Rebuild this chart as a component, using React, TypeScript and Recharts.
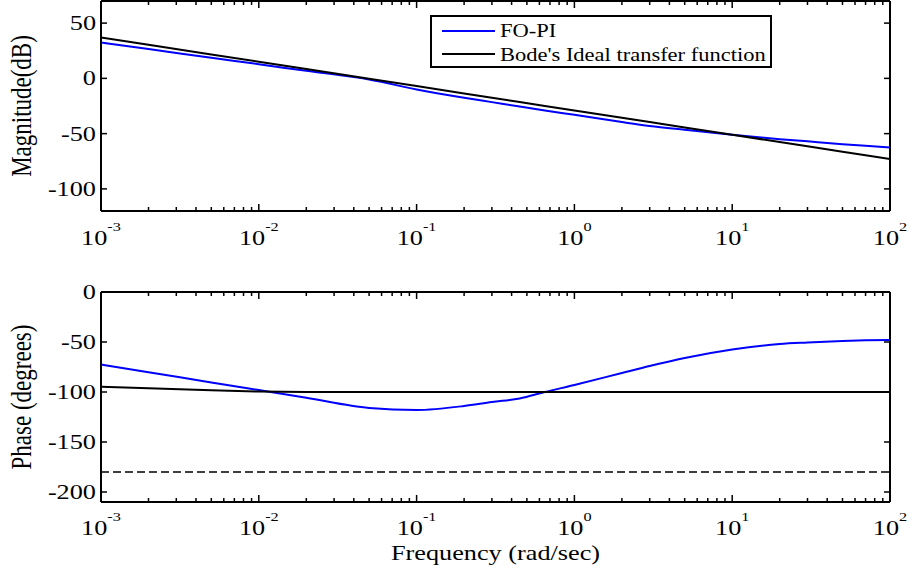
import React from "react";
import { LineChart, Line, XAxis, YAxis, ReferenceLine, Legend } from "recharts";

// frequency samples (rad/sec)
const freq = [
  0.001, 0.002, 0.005, 0.01, 0.02, 0.05, 0.1, 0.2, 0.3, 0.45, 0.65, 1, 2, 3, 5,
  10, 20, 30, 50, 70, 100,
];

// magnitude (dB)
const magFoPi = [
  32.4, 26.5, 18.7, 12.8, 6.8, -1, -10, -17.5, -21.5, -25.5, -29, -33, -39.5,
  -43, -46.5, -51, -55, -57, -59.5, -61, -62.5,
];
const magBode = [
  37, 30.4, 21.6, 15, 8.4, -0.4, -7, -13.6, -17.5, -21.4, -24.9, -29, -35.6,
  -39.5, -44.4, -51, -57.6, -61.5, -66.4, -69.6, -73,
];

// phase (degrees)
const phaseFoPi = [
  -72.5, -80.2, -90.4, -98.1, -105.8, -116, -118, -114, -110, -106.5, -100,
  -93, -81, -74, -66, -57.5, -52, -50.5, -49, -48.3, -48,
];
const phaseBode = [
  -94.8, -96.3, -98.3, -99.5, -100, -100, -100, -100, -100, -100, -100, -100,
  -100, -100, -100, -100, -100, -100, -100, -100, -100,
];
const phaseLimit = -180;

const seriesNames = ["FO-PI", "Bode's Ideal transfer function"];

// axis ticks
const decades = [0.001, 0.01, 0.1, 1, 10, 100];
const decadeExp = ["-3", "-2", "-1", "0", "1", "2"];
const magTicks = [-100, -50, 0, 50];
const phaseTicks = [-200, -150, -100, -50, 0];

const magData = freq.map((f, i) => ({ f, fopi: magFoPi[i], bode: magBode[i] }));
const phaseData = freq.map((f, i) => ({
  f,
  fopi: phaseFoPi[i],
  bode: phaseBode[i],
}));

// major + minor log ticks
const xTicks = decades.flatMap((d, i) =>
  i === decades.length - 1
    ? [d]
    : [1, 2, 3, 4, 5, 6, 7, 8, 9].map((m) => Number((m * d).toPrecision(3)))
);

const SERIF = "'Liberation Serif', 'Times New Roman', serif";
const SX = 1.25; // the original figure is stretched horizontally
const PLOT_W = 789;
const PLOT_H = 210;

function makeXTick(labelDy: number) {
  return (props: any) => {
    const { x, y, payload } = props;
    const v = Number(payload.value);
    const idx = decades.findIndex((d) => Math.abs(d - v) / d < 1e-6);
    const len = idx >= 0 ? 7 : 4;
    return (
      <g>
        <line x1={x} y1={y} x2={x} y2={y - len} stroke="#000" strokeWidth={1.5} />
        <line
          x1={x}
          y1={y - PLOT_H}
          x2={x}
          y2={y - PLOT_H + len}
          stroke="#000"
          strokeWidth={1.5}
        />
        {idx >= 0 && (
          <g transform={`translate(${x},${y + labelDy}) scale(${SX},1)`}>
            <text textAnchor="middle" fontFamily={SERIF} fontSize={21} fill="#000">
              10
              <tspan dy={-14} fontSize={13}>
                {decadeExp[idx]}
              </tspan>
            </text>
          </g>
        )}
      </g>
    );
  };
}

const YTick = (props: any) => {
  const { x, y, payload } = props;
  return (
    <g>
      <line x1={x} y1={y} x2={x + 6} y2={y} stroke="#000" strokeWidth={1.5} />
      <line
        x1={x + PLOT_W - 6}
        y1={y}
        x2={x + PLOT_W}
        y2={y}
        stroke="#000"
        strokeWidth={1.5}
      />
      <g transform={`translate(${x - 5},${y + 7}) scale(${SX},1)`}>
        <text textAnchor="end" fontFamily={SERIF} fontSize={21} fill="#000">
          {payload.value}
        </text>
      </g>
    </g>
  );
};

const YTitle = (props: any) => {
  const { viewBox, text } = props;
  const cy = viewBox.y + viewBox.height / 2;
  return (
    <g transform={`translate(31,${cy}) scale(${SX},1) rotate(-90)`}>
      <text textAnchor="middle" fontFamily={SERIF} fontSize={23} fill="#000">
        {text}
      </text>
    </g>
  );
};

const XTitle = (props: any) => {
  const { viewBox } = props;
  const cx = viewBox.x + viewBox.width / 2;
  return (
    <g transform={`translate(${cx},${viewBox.y + 58}) scale(${SX},1)`}>
      <text textAnchor="middle" fontFamily={SERIF} fontSize={21} fill="#000">
        Frequency (rad/sec)
      </text>
    </g>
  );
};

const renderLegend = (props: any) => {
  // keep the series order (FO-PI first)
  const items = [...(props.payload ?? [])].sort(
    (a: any, b: any) => seriesNames.indexOf(a.value) - seriesNames.indexOf(b.value)
  );
  return (
    <svg width={342} height={53} style={{ display: "block" }}>
      <rect x={1} y={1} width={340} height={51} fill="#fff" stroke="#000" strokeWidth={2} />
      {items.map((it: any, i: number) => (
        <g key={i}>
          <line
            x1={12}
            x2={65}
            y1={16 + i * 23}
            y2={16 + i * 23}
            stroke={it.color}
            strokeWidth={2}
          />
          <g transform={`translate(70,${22 + i * 24}) scale(${SX},1)`}>
            <text fontFamily={SERIF} fontSize={18} fill="#000">
              {it.value}
            </text>
          </g>
        </g>
      ))}
    </svg>
  );
};

const axisLine = { stroke: "#000", strokeWidth: 2 };

export default function App() {
  return (
    <div
      style={{
        position: "absolute",
        left: 0,
        top: 0,
        width: 915,
        height: 571,
        background: "#fff",
      }}
    >
      {/* 振幅 */}
      <div style={{ position: "absolute", left: 0, top: 0 }}>
        <LineChart
          width={915}
          height={260}
          data={magData}
          margin={{ top: 1, right: 25, bottom: 0, left: 0 }}
        >
          <XAxis
            dataKey="f"
            type="number"
            scale="log"
            domain={[0.001, 100]}
            ticks={xTicks}
            interval={0}
            allowDataOverflow
            height={49}
            tickSize={0}
            tickMargin={0}
            tickLine={false}
            axisLine={axisLine}
            tick={makeXTick(34)}
          />
          <YAxis
            type="number"
            domain={[-120, 70]}
            ticks={magTicks}
            interval={0}
            allowDataOverflow
            width={101}
            tickSize={0}
            tickMargin={0}
            tickLine={false}
            axisLine={axisLine}
            tick={YTick}
            label={<YTitle text="Magnitude(dB)" />}
          />
          <ReferenceLine y={70} stroke="#000" strokeWidth={2} />
          <ReferenceLine x={100} stroke="#000" strokeWidth={2} />
          <Line
            dataKey="fopi"
            name={seriesNames[0]}
            type="monotoneX"
            stroke="#0000ff"
            strokeWidth={2}
            dot={false}
            activeDot={false}
            isAnimationActive={false}
          />
          <Line
            dataKey="bode"
            name={seriesNames[1]}
            type="linear"
            stroke="#000"
            strokeWidth={2}
            dot={false}
            activeDot={false}
            isAnimationActive={false}
          />
          <Legend
            layout="vertical"
            align="center"
            verticalAlign="middle"
            wrapperStyle={{ left: 430, top: 15, width: 342, height: 53 }}
            content={renderLegend}
          />
        </LineChart>
      </div>

      {/* 位相 */}
      <div style={{ position: "absolute", left: 0, top: 260 }}>
        <LineChart
          width={915}
          height={311}
          data={phaseData}
          margin={{ top: 32, right: 25, bottom: 0, left: 0 }}
        >
          <XAxis
            dataKey="f"
            type="number"
            scale="log"
            domain={[0.001, 100]}
            ticks={xTicks}
            interval={0}
            allowDataOverflow
            height={69}
            tickSize={0}
            tickMargin={0}
            tickLine={false}
            axisLine={axisLine}
            tick={makeXTick(33)}
            label={<XTitle />}
          />
          <YAxis
            type="number"
            domain={[-210, 0]}
            ticks={phaseTicks}
            interval={0}
            allowDataOverflow
            width={101}
            tickSize={0}
            tickMargin={0}
            tickLine={false}
            axisLine={axisLine}
            tick={YTick}
            label={<YTitle text="Phase (degrees)" />}
          />
          <ReferenceLine y={0} stroke="#000" strokeWidth={2} />
          <ReferenceLine x={100} stroke="#000" strokeWidth={2} />
          <ReferenceLine
            y={phaseLimit}
            stroke="#000"
            strokeWidth={1.5}
            strokeDasharray="8 4"
          />
          <Line
            dataKey="fopi"
            type="monotoneX"
            stroke="#0000ff"
            strokeWidth={2}
            dot={false}
            activeDot={false}
            isAnimationActive={false}
          />
          <Line
            dataKey="bode"
            type="linear"
            stroke="#000"
            strokeWidth={2}
            dot={false}
            activeDot={false}
            isAnimationActive={false}
          />
        </LineChart>
      </div>
    </div>
  );
}
